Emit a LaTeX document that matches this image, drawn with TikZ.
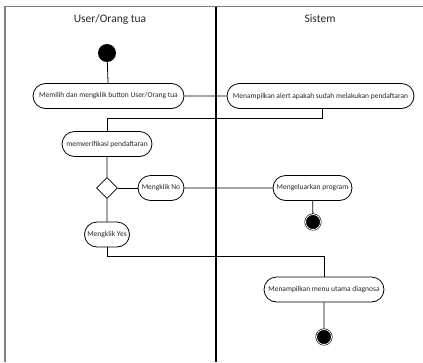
\documentclass[tikz,border=0pt]{standalone}
\usepackage{fontspec}
\setmainfont{Carlito}
\usetikzlibrary{shapes.misc,shapes.geometric}
\begin{document}
\begin{tikzpicture}[x=1pt,y=-1pt,
  act/.style={draw=black,line width=0.8pt,rounded rectangle,minimum height=25pt,
    inner xsep=3pt,font=\fontsize{7.5}{9}\selectfont,text=black!85},
  flow/.style={draw=black,line width=0.8pt},
  startdot/.style={circle,fill=black,minimum size=18pt,inner sep=0pt},
  enddot/.style={circle,fill=black,draw=black,line width=0.6pt,minimum size=15pt,inner sep=0pt,
    double=white,double distance=0.8pt},
  decide/.style={diamond,draw=black,line width=0.8pt,minimum size=21pt,inner sep=0pt},
  lane/.style={font=\fontsize{11.5}{13}\selectfont,text=black!85}]
\useasboundingbox (0,0) rectangle (423,362);
% swimlane frame
\draw[gray,line width=1.8pt] (5,362) -- (5,6.5);
\draw[gray,line width=1.3pt] (4.1,6.5) -- (423,6.5);
\draw[black,line width=1.4pt] (216,6.5) -- (216,362);
\node[lane] (laneA) at (110,19) {User/Orang tua};
\node[lane] (laneB) at (320,19) {Sistem};
% activities
\node[startdot] (start) at (107,53) {};
\node[act,minimum width=157pt] (pilih) at (108.5,96) {Memilih dan mengklik button User/Orang tua};
\node[act,minimum width=193pt] (alert) at (320.5,96) {Menampilkan alert apakah sudah melakukan pendaftaran};
\node[act,minimum width=96pt] (verif) at (107,144) {memverifikasi pendaftaran};
\node[decide] (pilihan) at (107,188) {};
\node[act,minimum width=52pt] (no) at (161,188) {Mengklik No};
\node[act,minimum width=85pt] (keluar) at (312.5,188) {Mengeluarkan program};
\node[enddot] (end1) at (313,222) {};
\node[act,minimum width=51pt] (yes) at (107,234.5) {Mengklik Yes};
\node[act,minimum width=126pt] (menu) at (324,289.5) {Menampilkan menu utama diagnosa};
\node[enddot] (end2) at (324,337) {};
% connectors
\draw[flow] (start) -- (pilih);
\draw[flow] (pilih) -- (alert);
\draw[flow] (alert.south -| 322,0) -- (322,118) -- (107,118) -- (verif.north);
\draw[flow] (verif) -- (pilihan);
\draw[flow] (pilihan) -- (no);
\draw[flow] (no) -- (keluar);
\draw[flow] (keluar) -- (end1);
\draw[flow] (pilihan) -- (yes);
\draw[flow] (yes.south) -- (107,256) -| (menu.north);
\draw[flow] (menu) -- (end2);
\end{tikzpicture}
\end{document}
